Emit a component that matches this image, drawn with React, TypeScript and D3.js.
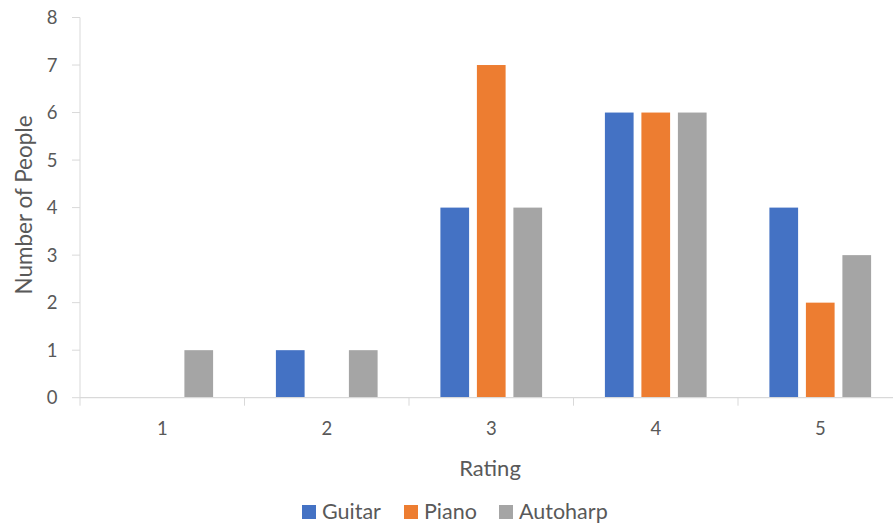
import React from "react";
import * as d3 from "d3";

const categories = ["1", "2", "3", "4", "5"];
const seriesNames = ["Guitar", "Piano", "Autoharp"];
const guitar = [0, 1, 4, 6, 4];
const piano = [0, 0, 7, 6, 2];
const autoharp = [1, 1, 4, 6, 3];
const yTicks = [0, 1, 2, 3, 4, 5, 6, 7, 8];
const colors = ["#4472C4", "#ED7D31", "#A5A5A5"];

const W = 893;
const H = 527;
const left = 80;
const bandW = 164.5;
const top = 17.5;
const bottom = 397.7;
const font = "Lato, 'Open Sans', sans-serif";
const textColor = "#595959";

export default function App() {
  const series = [guitar, piano, autoharp];
  const x = d3
    .scaleBand<string>()
    .domain(categories)
    .range([left, left + bandW * categories.length])
    .paddingInner(0)
    .paddingOuter(0);
  const y = d3.scaleLinear().domain([0, 8]).range([bottom, top]);
  const barW = 28.7;
  const step = 36.5;

  return (
    <svg
      width={W}
      height={H}
      style={{ position: "absolute", left: 0, top: 0, background: "#fff" }}
    >
      {series.map((vals, si) =>
        vals.map((v, ci) => {
          if (v === 0) return null;
          const cx = (x(categories[ci]) as number) + x.bandwidth() / 2 + (si - 1) * step;
          return (
            <rect
              key={`${si}-${ci}`}
              x={cx - barW / 2}
              y={y(v)}
              width={barW}
              height={y(0) - y(v)}
              fill={colors[si]}
            />
          );
        })
      )}
      <line x1={left} x2={left} y1={top} y2={bottom} stroke="#D9D9D9" strokeWidth={1} />
      {yTicks.map((t) => (
        <g key={t}>
          <line x1={left - 8} x2={left} y1={y(t)} y2={y(t)} stroke="#D9D9D9" strokeWidth={1} />
          <text
            x={57.5}
            y={y(t) + 6.5}
            textAnchor="end"
            fontFamily={font}
            fontSize={18.5}
            fill={textColor}
          >
            {t}
          </text>
        </g>
      ))}
      <line x1={left} x2={W} y1={bottom} y2={bottom} stroke="#D9D9D9" strokeWidth={1.3} />
      {categories.map((c) => (
        <g key={c}>
          <line
            x1={x(c) as number}
            x2={x(c) as number}
            y1={bottom}
            y2={bottom + 8}
            stroke="#D9D9D9"
            strokeWidth={1}
          />
          <text
            x={(x(c) as number) + x.bandwidth() / 2}
            y={435}
            textAnchor="middle"
            fontFamily={font}
            fontSize={18.5}
            fill={textColor}
          >
            {c}
          </text>
        </g>
      ))}
      <text
        x={490}
        y={476}
        textAnchor="middle"
        fontFamily={font}
        fontSize={22}
        fill={textColor}
      >
        Rating
      </text>
      <text
        transform={`translate(32, 205) rotate(-90)`}
        textAnchor="middle"
        fontFamily={font}
        fontSize={22.5}
        fill={textColor}
      >
        Number of People
      </text>
      {seriesNames.map((n, i) => {
        const lx = [302, 404, 499][i];
        return (
          <g key={n}>
            <rect x={lx} y={505} width={14} height={14} fill={colors[i]} />
            <text
              x={lx + 20}
              y={519}
              fontFamily={font}
              fontSize={21.5}
              fill={textColor}
            >
              {n}
            </text>
          </g>
        );
      })}
    </svg>
  );
}
